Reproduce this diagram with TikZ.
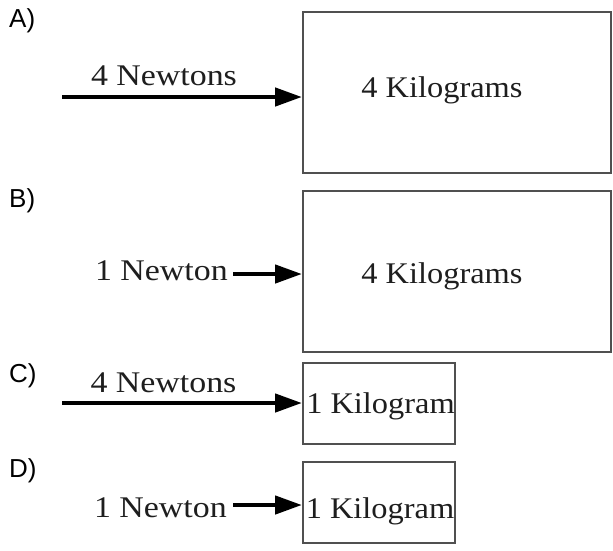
\documentclass[tikz,border=0pt]{standalone}
\usepackage{fontspec}
\setmainfont{Liberation Serif}
\newfontfamily\lblsans{Liberation Sans}
\newfontfamily\physfont[FakeStretch=1.08]{Liberation Serif}
\newfontfamily\forcefont[FakeStretch=1.13]{Liberation Serif}
\usetikzlibrary{arrows.meta}
\definecolor{boxgray}{HTML}{505050}
\definecolor{inkgray}{HTML}{1E1E1E}
\begin{document}
\begin{tikzpicture}[x=1pt,y=-1pt,
  massbox/.style={draw=boxgray, line width=2pt, inner sep=0pt, minimum width=#1},
  bigbox/.style={massbox=308pt, minimum height=161pt},
  smallbox/.style={massbox=152pt, minimum height=81pt},
  phys/.style={inner sep=0pt, anchor=base, text=inkgray, font=\physfont\fontsize{30}{36}\selectfont},
  forcetxt/.style={phys, font=\forcefont\fontsize{30}{36}\selectfont},
  optlbl/.style={inner sep=0pt, anchor=base west, font=\lblsans\fontsize{26}{31}\selectfont},
  force/.style={line width=4.5pt, -{Triangle[length=27pt,width=18pt]}}]
\fill[white] (0,0) rectangle (613,550);
\useasboundingbox (0,0) rectangle (613,550);

% option labels
\node[optlbl] (lA) at (9,27) {A)};
\node[optlbl] (lB) at (9,207) {B)};
\node[optlbl] (lC) at (9,382) {C)};
\node[optlbl] (lD) at (9,477) {D)};

% boxes
\node[bigbox] (boxA) at (457,92.5) {};
\node[bigbox] (boxB) at (457,271.5) {};
\node[smallbox] (boxC) at (379,403.5) {};
\node[smallbox] (boxD) at (379,502.5) {};

% mass texts
\node[phys] (mA) at (442,97) {4 Kilograms};
\node[phys] (mB) at (442,283) {4 Kilograms};
\node[phys] (mC) at (380.5,413) {1 Kilogram};
\node[phys] (mD) at (380,518) {1 Kilogram};

% force texts
\node[forcetxt] (fA) at (164,85) {4 Newtons};
\node[forcetxt, anchor=base east] (fB) at (228,280) {1 Newton};
\node[forcetxt] (fC) at (163.5,392) {4 Newtons};
\node[forcetxt, anchor=base east] (fD) at (227,517) {1 Newton};

% arrow tails
\coordinate (sA) at (62,97);
\coordinate (sB) at (233,274);
\coordinate (sC) at (62,403);
\coordinate (sD) at (233,505);

\draw[force] (sA) -- (sA -| boxA.west);
\draw[force] (sB) -- (sB -| boxB.west);
\draw[force] (sC) -- (sC -| boxC.west);
\draw[force] (sD) -- (sD -| boxD.west);
\end{tikzpicture}
\end{document}
